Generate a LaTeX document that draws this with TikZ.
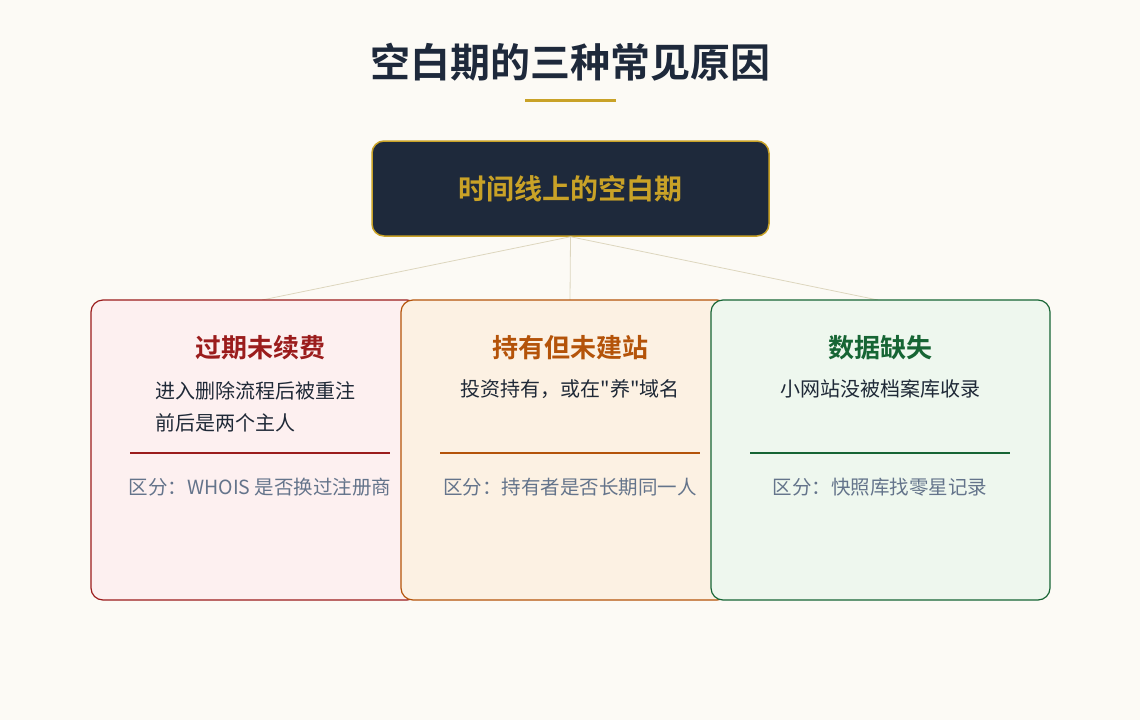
\documentclass[tikz,border=0pt]{standalone}
\usepackage{fontspec}
\setmainfont{Noto Sans CJK SC}
\newfontfamily\cjk{Noto Sans CJK SC}
\newfontfamily\cjkb{Noto Sans CJK SC Bold}
\begin{document}
\definecolor{bg}{HTML}{FCFAF5}
\definecolor{navy}{HTML}{1E293B}
\definecolor{gold}{HTML}{C9A227}
\definecolor{lnk}{HTML}{DDD6BE}
\definecolor{redb}{HTML}{9B1C1C}\definecolor{redf}{HTML}{FDF0F0}
\definecolor{orb}{HTML}{B45309}\definecolor{orf}{HTML}{FCF1E3}
\definecolor{grb}{HTML}{166534}\definecolor{grf}{HTML}{EEF7EE}
\definecolor{gray}{HTML}{64748B}
\definecolor{txt}{HTML}{1F2937}
\begin{tikzpicture}[x=1pt,y=-1pt,
  card/.style={draw,line width=1.2pt,rounded corners=12pt},
  ttl/.style={font=\cjkb\fontsize{26}{30}\selectfont},
  desc/.style={font=\cjk\fontsize{20}{32}\selectfont,text=txt,align=left},
  note/.style={font=\cjk\fontsize{19.5}{22}\selectfont,text=gray},
  link/.style={draw=lnk,line width=0.8pt}]
\fill[bg] (0,0) rectangle (1140,720);
\useasboundingbox (0,0) rectangle (1140,720);
\node[font=\cjkb\fontsize{40}{44}\selectfont,text=navy] (title) at (570,62) {空白期的三种常见原因};
\draw[gold,line width=3pt] (525,100) -- (616,100);
\node[draw=gold,fill=navy,line width=1.5pt,rounded corners=12pt,minimum width=397pt,minimum height=95pt,
  font=\cjkb\fontsize{28}{32}\selectfont,text=gold] (top) at (570.5,188.5) {时间线上的空白期};
\coordinate (c1) at (262,300);\coordinate (c2) at (570,300);\coordinate (c3) at (878,300);
\draw[link] (top.south) -- (c1);\draw[link] (top.south) -- (c2);\draw[link] (top.south) -- (c3);
\draw[card,draw=redb,fill=redf] (91,300) rectangle (419,600);
\draw[card,draw=orb,fill=orf] (401,300) rectangle (729,600);
\draw[card,draw=grb,fill=grf] (711,300) rectangle (1050,600);
\node[ttl,text=redb] (t1) at (260,348) {过期未续费};
\node[ttl,text=orb] (t2) at (570,348) {持有但未建站};
\node[ttl,text=grb] (t3) at (880,348) {数据缺失};
\node[desc,anchor=north west,inner sep=0pt] (d1) at (155,381) {进入删除流程后被重注\\前后是两个主人};
\node[desc] (d2) at (570,389) {投资持有，或在"养"域名};
\node[desc] (d3) at (880,389) {小网站没被档案库收录};
\draw[redb,line width=1.2pt] (130,453) -- (390,453);
\draw[orb,line width=1.2pt] (440,453) -- (700,453);
\draw[grb,line width=1.2pt] (750,453) -- (1010,453);
\node[note] (n1) at (260,487) {区分：WHOIS 是否换过注册商};
\node[note] (n2) at (570,487) {区分：持有者是否长期同一人};
\node[note] (n3) at (880,487) {区分：快照库找零星记录};
\end{tikzpicture}
\end{document}
